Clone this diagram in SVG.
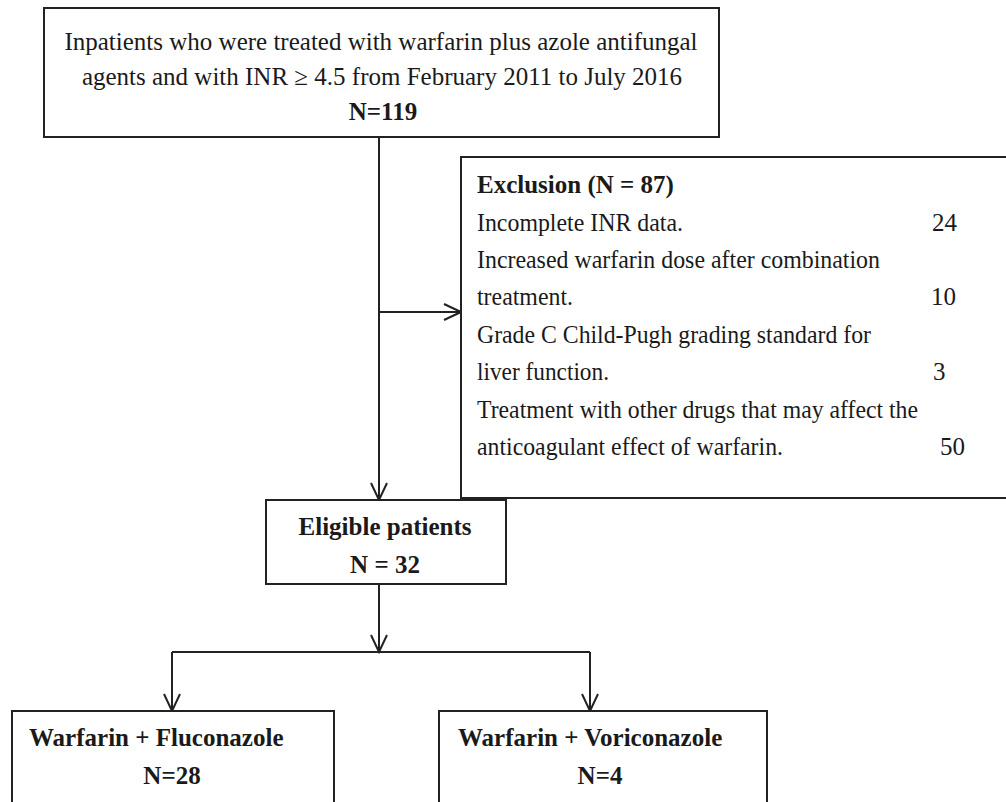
<svg xmlns="http://www.w3.org/2000/svg" width="1006" height="802" viewBox="0 0 1006 802">
<style>
.box{fill:#fff;stroke:#222;stroke-width:2}
.t{font-family:"Liberation Serif","Times New Roman",serif;fill:#1a1a1a;font-size:25px}
.b{font-weight:bold}
.conn{fill:none;stroke:#222;stroke-width:2}
</style>
<defs>
<marker id="ah" viewBox="-20 -10 22 20" refX="0" refY="0" markerWidth="22" markerHeight="20" markerUnits="userSpaceOnUse" orient="auto">
<path d="M-17,-8 L0,0 L-17,8" fill="none" stroke="#222" stroke-width="2"/>
</marker>
</defs>
<rect width="1006" height="802" fill="#fff"/>
<g id="connectors">
<path class="conn" d="M379,137 V500" marker-end="url(#ah)"/>
<path class="conn" d="M379,312 H461" marker-end="url(#ah)"/>
<path class="conn" d="M379,584 V652" marker-end="url(#ah)"/>
<path class="conn" d="M172,652 H590"/>
<path class="conn" d="M172,652 V711" marker-end="url(#ah)"/>
<path class="conn" d="M590,652 V711" marker-end="url(#ah)"/>
</g>
<g id="node-inpatients">
<rect class="box" x="44" y="8" width="675" height="129"/>
<text class="t" x="381" y="50" text-anchor="middle">Inpatients who were treated with warfarin plus azole antifungal</text>
<text class="t" x="382" y="85" text-anchor="middle">agents and with INR ≥ 4.5 from February 2011 to July 2016</text>
<text class="t b" x="383" y="120" text-anchor="middle">N=119</text>
</g>
<g id="node-exclusion">
<rect class="box" x="461" y="157" width="560" height="341"/>
<text class="t b" x="477" y="193" font-size="27">Exclusion (N = 87)</text>
<text class="t" x="477" y="231" textLength="206" lengthAdjust="spacingAndGlyphs">Incomplete INR data.</text>
<text class="t" x="932" y="231">24</text>
<text class="t" x="477" y="268" textLength="403" lengthAdjust="spacingAndGlyphs">Increased warfarin dose after combination</text>
<text class="t" x="477" y="305" textLength="96" lengthAdjust="spacingAndGlyphs">treatment.</text>
<text class="t" x="931" y="305">10</text>
<text class="t" x="477" y="343" textLength="394" lengthAdjust="spacingAndGlyphs">Grade C Child-Pugh grading standard for</text>
<text class="t" x="477" y="380" textLength="132" lengthAdjust="spacingAndGlyphs">liver function.</text>
<text class="t" x="933" y="380">3</text>
<text class="t" x="477" y="418" textLength="441" lengthAdjust="spacingAndGlyphs">Treatment with other drugs that may affect the</text>
<text class="t" x="477" y="455" textLength="306" lengthAdjust="spacingAndGlyphs">anticoagulant effect of warfarin.</text>
<text class="t" x="940" y="455">50</text>
</g>
<g id="node-eligible">
<rect class="box" x="266" y="500" width="240" height="84"/>
<text class="t b" x="385" y="535" text-anchor="middle">Eligible patients</text>
<text class="t b" x="385" y="573" text-anchor="middle">N = 32</text>
</g>
<g id="node-fluconazole">
<rect class="box" x="12" y="711" width="322" height="100"/>
<text class="t b" x="29" y="746" font-size="24.5">Warfarin + Fluconazole</text>
<text class="t b" x="172" y="784" font-size="24.5" text-anchor="middle">N=28</text>
</g>
<g id="node-voriconazole">
<rect class="box" x="439" y="711" width="328" height="100"/>
<text class="t b" x="458" y="746" font-size="24.5">Warfarin + Voriconazole</text>
<text class="t b" x="600" y="784" font-size="24.5" text-anchor="middle">N=4</text>
</g>
</svg>
